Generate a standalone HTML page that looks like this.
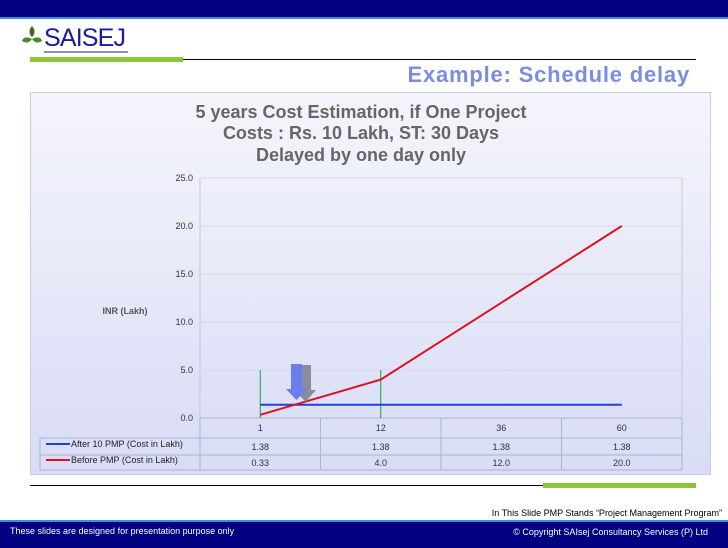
<!DOCTYPE html>
<html><head><meta charset="utf-8"><style>
body{margin:0;width:728px;height:546px;position:relative;background:#fff;font-family:"Liberation Sans",sans-serif;overflow:hidden}
.abs{position:absolute}
</style></head><body>
<div class="abs" style="left:0;top:0;width:728px;height:17px;background:#000080;border-bottom:2px solid #3a8fe0"></div>
<div class="abs" style="left:22px;top:20px;height:34px;">
<svg width="110" height="36"><path d="M10 6 Q5 12 10 17 Q15 12 10 6Z" fill="#3a6a1a"/><path d="M10 19 Q2 15 0 21 Q6 25 10 19Z" fill="#4a8a2a"/><path d="M10 19 Q18 15 20 21 Q14 25 10 19Z" fill="#4a8a2a"/><text x="22" y="26" font-family="Liberation Sans" font-size="25" fill="#1a1aa0" textLength="82" lengthAdjust="spacing">SAISEJ</text><line x1="22" y1="32" x2="106" y2="32" stroke="#1a1aa0" stroke-width="1"/></svg>
</div>
<div class="abs" style="left:30px;top:59px;width:666px;height:1px;background:#000"></div>
<div class="abs" style="left:30px;top:57px;width:153px;height:5px;background:#8cc43c"></div>
<div class="abs" style="right:38px;top:62px;font-size:22px;letter-spacing:0.8px;font-weight:bold;color:#7b8de0">Example: Schedule delay</div>
<div class="abs" style="left:30px;top:92px;width:679px;height:381px;background:linear-gradient(180deg,#f4f5fb,#d8dcf6);border:1px solid #c8cce0"></div>
<svg class="abs" style="left:0;top:0" width="728" height="546" id="chart">
<g font-family="Liberation Sans" font-weight="bold" font-size="18" fill="#666" text-anchor="middle">
<text x="361" y="118">5 years Cost Estimation, if One Project</text>
<text x="361" y="139">Costs : Rs. 10 Lakh, ST: 30 Days</text>
<text x="361" y="161">Delayed by one day only</text></g>
<text x="125" y="314" font-size="9" font-weight="bold" fill="#555" text-anchor="middle">INR (Lakh)</text>
</svg>
<div class="abs" style="left:30px;top:485px;width:666px;height:1px;background:#000"></div>
<div class="abs" style="left:543px;top:483px;width:153px;height:5px;background:#8cc43c"></div>
<div class="abs" style="right:6px;top:508px;font-size:9px;color:#000">In This Slide PMP Stands “Project Management Program”</div>
<div class="abs" style="left:0;top:520px;width:728px;height:26px;background:#000080;border-top:2px solid #3a8fe0;color:#fff;font-size:9px">
<span class="abs" style="left:10px;top:4px">These slides are designed for presentation purpose only</span>
<span class="abs" style="right:20px;top:5px">© Copyright SAIsej Consultancy Services (P) Ltd</span></div>
<script>
const categories=["1","12","36","60"];
const afterPMP=[1.38,1.38,1.38,1.38];
const beforePMP=[0.33,4.0,12.0,20.0];
const afterLabels=["1.38","1.38","1.38","1.38"];
const beforeLabels=["0.33","4.0","12.0","20.0"];
const yTicks=[0,5,10,15,20,25];
const NS="http://www.w3.org/2000/svg";
const svg=document.getElementById('chart');
const L=200,R=682,T=178,B=418,yMax=25;
const cw=(R-L)/categories.length;
const x=i=>L+cw*(i+0.5);
const y=v=>B-(v/yMax)*(B-T);
function mk(t,a){const e=document.createElementNS(NS,t);for(const k in a)e.setAttribute(k,a[k]);svg.appendChild(e);return e;}
let e=mk('rect',{x:L,y:T,width:R-L,height:B-T,fill:'none',stroke:'#c4c8dc'});


yTicks.forEach(v=>{
 if(v>0){let g=mk('line',{x1:L,x2:R,y1:y(v),y2:y(v),stroke:'#d4d8e8'});
 
 }
 let t=mk('text',{x:193,y:y(v)+3,'font-size':9,'text-anchor':'end',fill:'#333'});t.textContent=v.toFixed(1);
 
 
});
const tL=40,rows=[B,438,455,470];
for(let r=0;r<4;r++){let l=mk('line',{x1:r==0?L:tL,x2:R,y1:rows[r],y2:rows[r],stroke:'#b0b4c8'});
 
 }
for(let i=0;i<=categories.length;i++){let l=mk('line',{x1:L+cw*i,x2:L+cw*i,y1:B,y2:470,stroke:'#b0b4c8'});
 
 }
let l0=mk('line',{x1:tL,x2:tL,y1:438,y2:470,stroke:'#b0b4c8'});


categories.forEach((c,i)=>{
 let t=mk('text',{x:x(i),y:431,'font-size':9,'text-anchor':'middle',fill:'#333'});t.textContent=c;
 
 
 let a=mk('text',{x:x(i),y:450,'font-size':9,'text-anchor':'middle',fill:'#333'});a.textContent=afterLabels[i];
 
 
 let b=mk('text',{x:x(i),y:466,'font-size':9,'text-anchor':'middle',fill:'#333'});b.textContent=beforeLabels[i];
 
 
});
[["After 10 PMP (Cost in Lakh)",'#2040e0',447],["Before PMP (Cost in Lakh)",'#e01020',463]].forEach(([s,c,yy])=>{
 let k=mk('line',{x1:46,x2:70,y1:yy-3,y2:yy-3,stroke:c,'stroke-width':2});
 
 
 let t=mk('text',{x:71,y:yy,'font-size':9,fill:'#222'});t.textContent=s;
 
 
});
[0,1].forEach(i=>{let g=mk('line',{x1:x(i),x2:x(i),y1:370,y2:B,stroke:'#1a9a4a'});
 
 });
let pa=mk('polyline',{points:afterPMP.map((v,i)=>x(i)+','+y(v)).join(' '),fill:'none',stroke:'#2040e0','stroke-width':2});


let pb=mk('polyline',{points:beforePMP.map((v,i)=>x(i)+','+y(v)).join(' '),fill:'none',stroke:'#e01020','stroke-width':2});


let ag=mk('path',{d:'M300 365 h11 v25 h5 l-10.5 12 l-10.5 -12 h5z',fill:'#8a8c9a'});


let ab=mk('path',{d:'M291 364 h11 v25 h5 l-10.5 11 l-10.5 -11 h5z',fill:'#6a7ef0'});


</script>
</body></html>
